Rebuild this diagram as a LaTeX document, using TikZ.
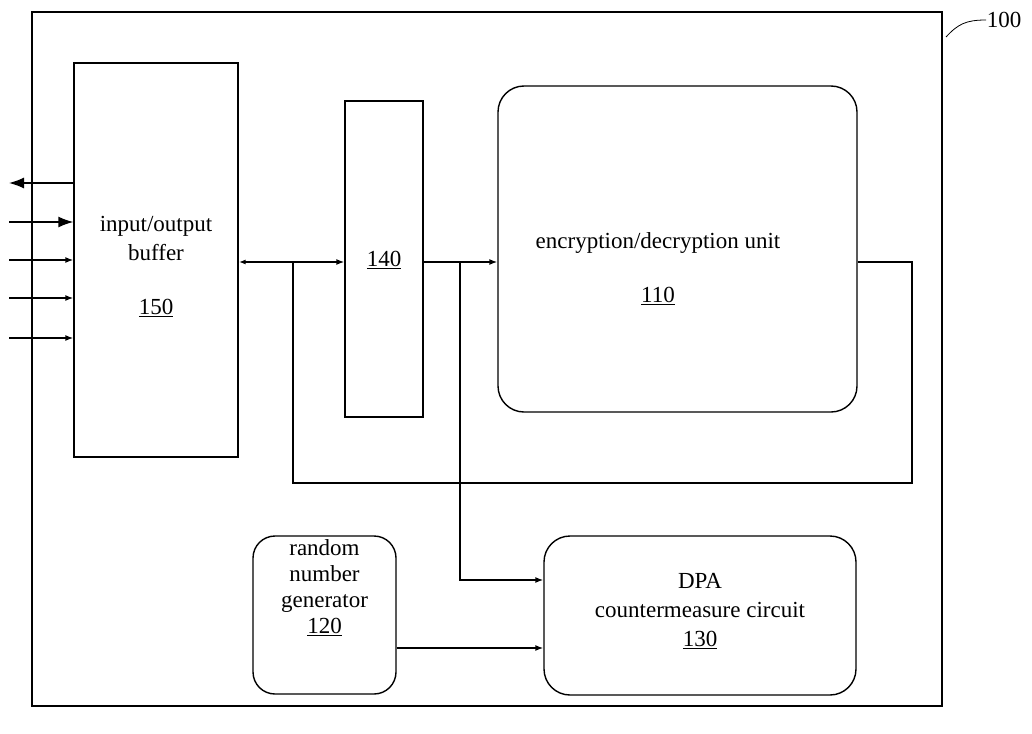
\documentclass[tikz,border=0pt]{standalone}
\usepackage{fontspec}
\setmainfont{Liberation Serif}
\usetikzlibrary{arrows.meta,positioning}

\begin{document}
\begin{tikzpicture}[x=1pt,y=-1pt,line width=1.4pt,
  block/.style={draw, inner sep=0pt},
  rblock/.style={block, rounded corners=26pt},
  txt/.style={font=\fontsize{23}{29}\selectfont, align=center, inner sep=0pt},
  link/.style={-{Latex[length=8pt,width=6pt]}},
  biglink/.style={-{Latex[length=15pt,width=11pt]}}]
\useasboundingbox (0,0) rectangle (1032,733);

% outer chip
\node [block, minimum width=910pt, minimum height=694pt] (chip) at (487,359) {};
\node [txt] (lbl) at (1004,20) {100};
\coordinate (lead) at (946,37);
\draw [line width=0.8pt] (lead) .. controls (958,24) and (966,20) .. (lbl.west);

% blocks
\node [block, minimum width=164pt, minimum height=394pt] (buf) at (156,260) {};
\node [block, minimum width=78pt, minimum height=316pt] (sw) at (384,259) {};
\node [rblock, minimum width=359pt, minimum height=326pt] (enc) at (677.5,249) {};
\node [rblock, rounded corners=22pt, minimum width=143pt, minimum height=158pt] (rng) at (324.5,615) {};
\node [rblock, minimum width=312pt, minimum height=159pt] (dpa) at (700,615.5) {};

% texts
\node [txt] (buftxt) at (156,238) {input/output\\buffer};
\node [txt] (bufnum) at (156,308) {\underline{150}};
\node [txt] (swnum) at (384,260) {\underline{140}};
\node [txt] (enctxt) at (658,243) {encryption/decryption unit};
\node [txt] (encnum) at (658,296) {\underline{110}};
\node [txt, font=\fontsize{23}{26}\selectfont] (rngtxt) at (324.5,588) {random\\number\\generator\\\underline{120}};
\node [txt] (dpatxt) at (700,596) {DPA\\countermeasure circuit};
\node [txt] (dpanum) at (700,640) {\underline{130}};

% pins on the left
\coordinate (bus) at (0,262);
\foreach \y/\n in {183/1,222/2,260/3,298/4,338/5}
  \coordinate (pin\n) at (9,\y);
\draw [biglink] (buf.west |- pin1) -- (pin1);
\draw [biglink] (pin2) -- (buf.west |- pin2);
\foreach \n in {3,4,5}
  \draw [link] (pin\n) -- (buf.west |- pin\n);

% data path
\coordinate (j1) at (293,262);
\coordinate (j2) at (460,262);
\draw [{Latex[length=7pt,width=5pt]}-{Latex[length=8pt,width=6pt]}] (buf.east |- bus) -- (sw.west |- bus);
\draw [link] (sw.east |- bus) -- (enc.west |- bus);
\draw (enc.east |- bus) -- (912,262) -- (912,483) -- (293,483) -- (j1);
\draw [link] (j2) |- (dpa.west |- 0,580);
\draw [link] (rng.east |- 0,648) -- (dpa.west |- 0,648);

\end{tikzpicture}
\end{document}
